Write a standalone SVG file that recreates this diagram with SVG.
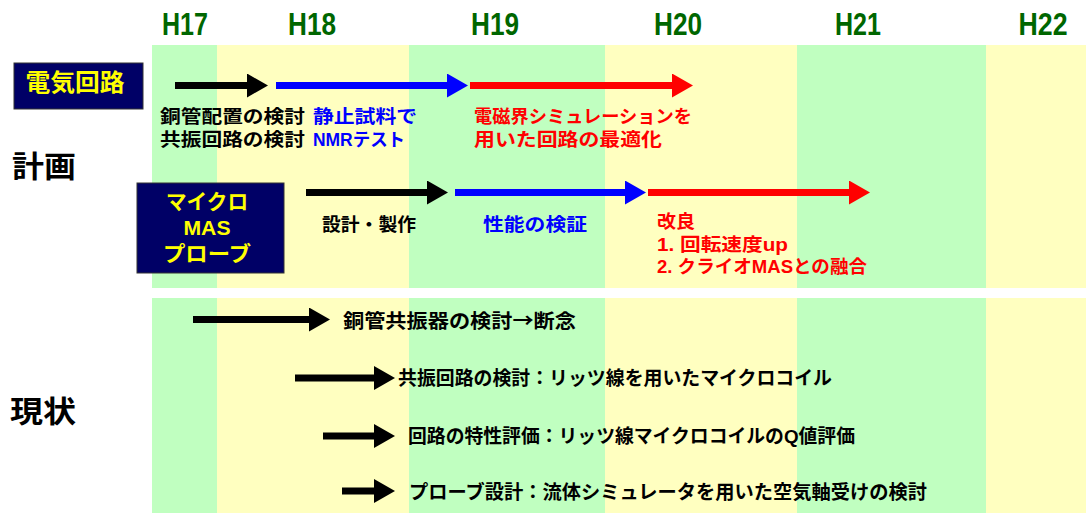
<svg xmlns="http://www.w3.org/2000/svg" width="1086" height="514" viewBox="0 0 1086 514">
<style>
.g{fill:#c0ffc0}
.y{fill:#ffffc0}
.hd{font-family:"Liberation Sans",sans-serif;font-size:32px;font-weight:bold;fill:#006600;text-anchor:middle}
.jp{font-family:"Liberation Sans","Noto Sans CJK JP",sans-serif;font-weight:bold}
.cjk{font-family:"Noto Sans CJK JP",sans-serif}
.t{font-size:18px;fill:#000}
.lo{font-size:19px;fill:#000}
.bl{fill:#0000ff}
.rd{fill:#ff0000}
.box{fill:#000066;stroke:#333;stroke-width:1}
.bt{fill:#ffff00;text-anchor:middle}
.sec{font-size:30px;fill:#000}
.ak{stroke:#000;stroke-width:7;fill:none}
.ab{stroke:#0000ff;stroke-width:7;fill:none}
.ar{stroke:#ff0000;stroke-width:7;fill:none}
</style>
<defs>
<marker id="hk" markerUnits="userSpaceOnUse" viewBox="0 0 21 24" markerWidth="21" markerHeight="24" refX="1" refY="12" orient="auto"><path d="M0,0 L21,12 L0,24 z" fill="#000"/></marker>
<marker id="hb" markerUnits="userSpaceOnUse" viewBox="0 0 21 24" markerWidth="21" markerHeight="24" refX="1" refY="12" orient="auto"><path d="M0,0 L21,12 L0,24 z" fill="#0000ff"/></marker>
<marker id="hr" markerUnits="userSpaceOnUse" viewBox="0 0 21 24" markerWidth="21" markerHeight="24" refX="1" refY="12" orient="auto"><path d="M0,0 L21,12 L0,24 z" fill="#ff0000"/></marker>
</defs>
<rect width="1086" height="514" fill="#fff"/>
<g id="bands">
<rect class="g" x="152" y="45" width="65" height="243"/>
<rect class="y" x="217" y="45" width="192" height="243"/>
<rect class="g" x="409" y="45" width="196" height="243"/>
<rect class="y" x="605" y="45" width="192" height="243"/>
<rect class="g" x="797" y="45" width="189" height="243"/>
<rect class="y" x="986" y="45" width="100" height="243"/>
<rect class="g" x="152" y="298" width="65" height="215"/>
<rect class="y" x="217" y="298" width="192" height="215"/>
<rect class="g" x="409" y="298" width="196" height="215"/>
<rect class="y" x="605" y="298" width="192" height="215"/>
<rect class="g" x="797" y="298" width="189" height="215"/>
<rect class="y" x="986" y="298" width="100" height="215"/>
</g>
<g id="years">
<text class="hd" x="185" y="35" textLength="46" lengthAdjust="spacingAndGlyphs">H17</text>
<text class="hd" x="312" y="35" textLength="48" lengthAdjust="spacingAndGlyphs">H18</text>
<text class="hd" x="495" y="35" textLength="48" lengthAdjust="spacingAndGlyphs">H19</text>
<text class="hd" x="678" y="35" textLength="48" lengthAdjust="spacingAndGlyphs">H20</text>
<text class="hd" x="858" y="35" textLength="46" lengthAdjust="spacingAndGlyphs">H21</text>
<text class="hd" x="1043" y="35" textLength="49" lengthAdjust="spacingAndGlyphs">H22</text>
</g>
<g id="sec-plan"><text class="jp sec" x="12" y="177" textLength="64" lengthAdjust="spacingAndGlyphs">計画</text></g>
<g id="sec-now"><text class="jp sec" x="10" y="422" textLength="66" lengthAdjust="spacingAndGlyphs">現状</text></g>
<g id="node-circuit">
<rect class="box" x="14" y="63" width="129" height="46"/>
<text class="jp bt" x="75" y="91" font-size="24" textLength="99" lengthAdjust="spacingAndGlyphs">電気回路</text>
</g>
<g id="node-probe">
<rect class="box" x="137" y="183" width="147" height="90"/>
<text class="jp bt" x="207" y="209" font-size="21" textLength="82" lengthAdjust="spacingAndGlyphs">マイクロ</text>
<text class="bt" x="207" y="235" font-size="21" font-family="Liberation Sans,sans-serif" font-weight="bold" textLength="47" lengthAdjust="spacingAndGlyphs">MAS</text>
<text class="jp bt" x="207" y="261" font-size="21" textLength="88" lengthAdjust="spacingAndGlyphs">プローブ</text>
</g>
<g id="connectors">
<line class="ak" x1="175" y1="85.5" x2="248" y2="85.5" marker-end="url(#hk)"/>
<line class="ab" x1="276" y1="85.5" x2="448" y2="85.5" marker-end="url(#hb)"/>
<line class="ar" x1="470" y1="85.5" x2="673" y2="85.5" marker-end="url(#hr)"/>
<line class="ak" x1="306" y1="192.5" x2="428" y2="192.5" marker-end="url(#hk)"/>
<line class="ab" x1="455" y1="192.5" x2="626" y2="192.5" marker-end="url(#hb)"/>
<line class="ar" x1="648" y1="192.5" x2="850" y2="192.5" marker-end="url(#hr)"/>
<line class="ak" x1="193" y1="319.5" x2="310" y2="319.5" marker-end="url(#hk)"/>
<line class="ak" x1="295" y1="378" x2="375" y2="378" marker-end="url(#hk)"/>
<line class="ak" x1="323" y1="436" x2="375" y2="436" marker-end="url(#hk)"/>
<line class="ak" x1="342" y1="491" x2="375" y2="491" marker-end="url(#hk)"/>
</g>
<g id="label-copper">
<text class="jp t" x="160" y="123" textLength="145" lengthAdjust="spacingAndGlyphs">銅管配置の検討</text>
<text class="jp t" x="160" y="146" textLength="145" lengthAdjust="spacingAndGlyphs">共振回路の検討</text>
</g>
<g id="label-nmr">
<text class="jp t bl" x="313" y="123" textLength="104" lengthAdjust="spacingAndGlyphs">静止試料で</text>
<text class="jp t bl" x="313" y="146" textLength="92" lengthAdjust="spacingAndGlyphs">NMRテスト</text>
</g>
<g id="label-em">
<text class="jp t rd" x="474" y="123" textLength="218" lengthAdjust="spacingAndGlyphs">電磁界シミュレーションを</text>
<text class="jp t rd" x="474" y="146" textLength="188" lengthAdjust="spacingAndGlyphs">用いた回路の最適化</text>
</g>
<g id="label-design"><text class="jp t" x="322" y="231" textLength="94" lengthAdjust="spacingAndGlyphs">設計・製作</text></g>
<g id="label-perf"><text class="jp t bl" x="483" y="231" textLength="104" lengthAdjust="spacingAndGlyphs">性能の検証</text></g>
<g id="label-improve">
<text class="jp t rd" x="657" y="228" textLength="38" lengthAdjust="spacingAndGlyphs">改良</text>
<text class="jp t rd" x="657" y="251" textLength="131" lengthAdjust="spacingAndGlyphs">1. 回転速度up</text>
<text class="jp t rd" x="657" y="273" textLength="210" lengthAdjust="spacingAndGlyphs">2. クライオMASとの融合</text>
</g>
<g id="now-1"><text class="jp lo" x="343" y="328" textLength="233" lengthAdjust="spacingAndGlyphs">銅管共振器の検討<tspan class="cjk">→</tspan>断念</text></g>
<g id="now-2"><text class="jp lo" x="398" y="385" textLength="434" lengthAdjust="spacingAndGlyphs">共振回路の検討：リッツ線を用いたマイクロコイル</text></g>
<g id="now-3"><text class="jp lo" x="408" y="443" textLength="447" lengthAdjust="spacingAndGlyphs">回路の特性評価：リッツ線マイクロコイルのQ値評価</text></g>
<g id="now-4"><text class="jp lo" x="409" y="499" textLength="518" lengthAdjust="spacingAndGlyphs">プローブ設計：流体シミュレータを用いた空気軸受けの検討</text></g>
</svg>
